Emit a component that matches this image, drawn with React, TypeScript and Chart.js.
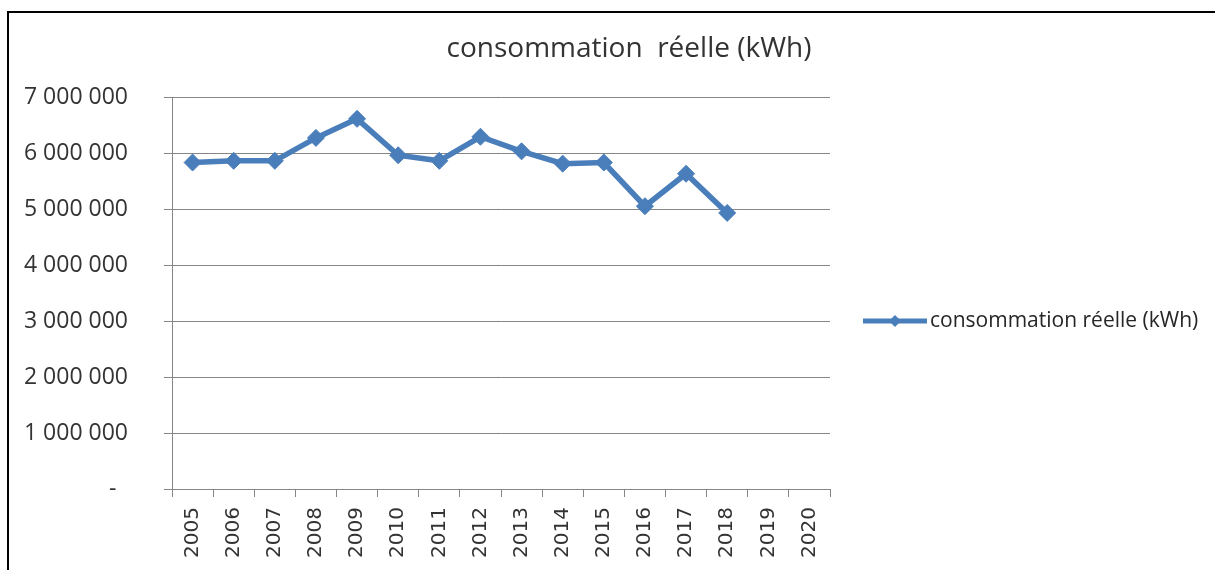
import React, { useEffect, useRef } from "react";
import { Chart, registerables } from "chart.js";

Chart.register(...registerables);

const categories: string[] = [
  "2005", "2006", "2007", "2008", "2009", "2010", "2011", "2012",
  "2013", "2014", "2015", "2016", "2017", "2018", "2019", "2020",
];

const consumption: (number | null)[] = [
  5830000, 5860000, 5860000, 6270000, 6610000, 5960000, 5860000, 6290000,
  6030000, 5810000, 5830000, 5050000, 5630000, 4930000, null, null,
];

const seriesLabel = "consommation réelle (kWh)";
const titleText = "consommation  réelle (kWh)";
const yMax = 7000000;
const yStep = 1000000;

const lineColor = "#4A7EBB";
const gridColor = "#868686";
const textColor = "#333333";

function formatTick(v: number): string {
  if (v === 0) return "-\u2002";
  return String(Math.round(v)).replace(/\B(?=(\d{3})+(?!\d))/g, " ");
}

const titlePlugin = {
  id: "customTitle",
  afterDraw(chart: any) {
    const ctx = chart.ctx as CanvasRenderingContext2D;
    ctx.save();
    ctx.fillStyle = textColor;
    ctx.font = "28px 'Open Sans'";
    ctx.textAlign = "center";
    ctx.textBaseline = "alphabetic";
    ctx.fillText(titleText, 629, 57);
    ctx.restore();
  },
};

const legendPlugin = {
  id: "customLegend",
  afterDraw(chart: any) {
    const ctx = chart.ctx as CanvasRenderingContext2D;
    const area = chart.chartArea;
    const y = 321;
    const x0 = area.right + 33;
    const x1 = x0 + 64;
    ctx.save();
    ctx.strokeStyle = lineColor;
    ctx.lineWidth = 5;
    ctx.beginPath();
    ctx.moveTo(x0, y);
    ctx.lineTo(x1, y);
    ctx.stroke();
    const cx = (x0 + x1) / 2;
    const r = 6;
    ctx.fillStyle = lineColor;
    ctx.beginPath();
    ctx.moveTo(cx, y - r);
    ctx.lineTo(cx + r, y);
    ctx.lineTo(cx, y + r);
    ctx.lineTo(cx - r, y);
    ctx.closePath();
    ctx.fill();
    ctx.fillStyle = "#262626";
    ctx.font = "21px 'Open Sans'";
    ctx.textBaseline = "middle";
    ctx.textAlign = "left";
    ctx.fillText(seriesLabel, x1 + 3, y);
    ctx.restore();
  },
};

export default function App() {
  const ref = useRef<HTMLCanvasElement | null>(null);

  useEffect(() => {
    if (!ref.current) return;
    const chart = new Chart(ref.current, {
      type: "line",
      data: {
        labels: categories,
        datasets: [
          {
            label: seriesLabel,
            data: consumption,
            borderColor: lineColor,
            backgroundColor: lineColor,
            borderWidth: 5.5,
            pointStyle: "rectRot",
            pointRadius: 8.5,
            pointBackgroundColor: lineColor,
            pointBorderColor: lineColor,
            pointBorderWidth: 1,
            spanGaps: false,
            tension: 0,
          },
        ],
      },
      options: {
        responsive: false,
        animation: false,
        layout: { padding: { left: 0, right: 385, top: 97, bottom: 0 } },
        plugins: {
          legend: { display: false },
          tooltip: { enabled: false },
          title: { display: false },
        },
        scales: {
          x: {
            type: "category",
            offset: true,
            grid: {
              display: true,
              offset: true,
              drawOnChartArea: false,
              drawTicks: true,
              tickLength: 8,
              color: gridColor,
            },
            border: { display: true, color: gridColor, width: 1 },
            ticks: {
              autoSkip: false,
              minRotation: 90,
              maxRotation: 90,
              padding: 10,
              color: textColor,
              font: { family: "'DejaVu Sans'", size: 20 },
            },
            afterFit(scale: any) {
              scale.height = 81;
            },
          },
          y: {
            min: 0,
            max: yMax,
            grid: {
              color: gridColor,
              drawTicks: true,
              tickLength: 8,
            },
            border: { display: true, color: gridColor, width: 1 },
            ticks: {
              stepSize: yStep,
              padding: 36,
              color: textColor,
              font: { family: "'Open Sans'", size: 23 },
              callback: (v: any) => formatTick(Number(v)),
            },
            afterFit(scale: any) {
              scale.width = 172;
            },
          },
        },
      },
      plugins: [titlePlugin, legendPlugin],
    });
    return () => chart.destroy();
  }, []);

  return (
    <div style={{ position: "absolute", left: 0, top: 0, width: 1215, height: 570, overflow: "hidden", background: "#fff" }}>
      <div
        style={{
          position: "absolute",
          left: 7,
          top: 11,
          width: 1300,
          height: 700,
          borderLeft: "2px solid #000",
          borderTop: "2px solid #000",
        }}
      />
      <canvas ref={ref} width={1215} height={570} style={{ position: "absolute", left: 0, top: 0 }} />
    </div>
  );
}
